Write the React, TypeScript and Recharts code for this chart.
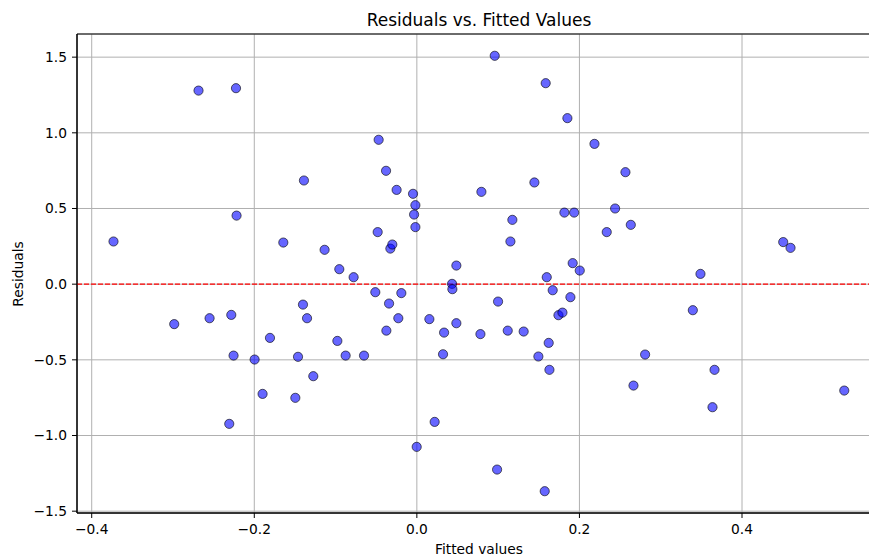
import {
  ScatterChart,
  Scatter,
  XAxis,
  YAxis,
  CartesianGrid,
  ReferenceLine,
  ReferenceArea,
} from "recharts";

/* ------------------------------------------------------------------ */
/*  Data                                                               */
/* ------------------------------------------------------------------ */

const fittedValues = [
  -0.3732, -0.2985, -0.2686, -0.255, -0.2308, -0.2283, -0.2255, -0.2225,
  -0.2218, -0.1996, -0.1898, -0.1807, -0.1643, -0.1495, -0.1462, -0.1401,
  -0.1389, -0.1351, -0.1274, -0.1135, -0.0978, -0.0954, -0.0876, -0.0778,
  -0.065, -0.0511, -0.0482, -0.047, -0.0379, -0.0375, -0.0342, -0.0326,
  -0.0302, -0.0249, -0.0228, -0.0191, -0.0047, -0.0034, -0.0018, -0.0018,
  -0.0002, 0.0154, 0.0219, 0.0322, 0.0335, 0.0433, 0.0437, 0.0486, 0.0486,
  0.0782, 0.0794, 0.0958, 0.0987, 0.0999, 0.1118, 0.1151, 0.1175, 0.1314,
  0.1446, 0.1495, 0.1573, 0.1585, 0.1598, 0.1622, 0.1631, 0.1671, 0.1742,
  0.1791, 0.1815, 0.1852, 0.1889, 0.1917, 0.1935, 0.2004, 0.2185, 0.2336,
  0.2439, 0.2566, 0.2632, 0.2665, 0.2808, 0.3395, 0.3489, 0.3637, 0.3662,
  0.4507, 0.4597, 0.5258,
];

const residuals = [
  0.282, -0.264, 1.279, -0.225, -0.923, -0.203, -0.472, 1.295, 0.453, -0.498,
  -0.725, -0.355, 0.275, -0.751, -0.48, -0.135, 0.685, -0.225, -0.608, 0.227,
  -0.375, 0.099, -0.472, 0.046, -0.472, -0.053, 0.344, 0.954, 0.749, -0.307,
  -0.128, 0.235, 0.262, 0.623, -0.225, -0.059, 0.597, 0.46, 0.522, 0.377,
  -1.075, -0.231, -0.91, -0.463, -0.32, 0.002, -0.033, 0.123, -0.258, -0.33,
  0.61, 1.509, -1.225, -0.115, -0.307, 0.282, 0.425, -0.313, 0.672, -0.478,
  -1.368, 1.328, 0.046, -0.388, -0.566, -0.04, -0.205, -0.188, 0.473, 1.097,
  -0.086, 0.139, 0.473, 0.09, 0.927, 0.344, 0.5, 0.74, 0.392, -0.67, -0.465,
  -0.172, 0.068, -0.813, -0.566, 0.278, 0.24, -0.703,
];

const xTicks = [-0.4, -0.2, 0, 0.2, 0.4];
const yTicks = [-1.5, -1.0, -0.5, 0, 0.5, 1.0, 1.5];

const xDomain: [number, number] = [-0.4181, 0.571];
const yDomain: [number, number] = [-1.512, 1.653];

/* ------------------------------------------------------------------ */
/*  Helpers                                                            */
/* ------------------------------------------------------------------ */

// matplotlib style labels with a real minus sign
const fmt = (v: number) => (v < 0 ? "\u2212" : "") + Math.abs(v).toFixed(1);

function Dot(props: { cx?: number; cy?: number }) {
  const { cx, cy } = props;
  if (cx == null || cy == null) return null;
  return (
    <circle
      cx={cx}
      cy={cy}
      r={4.6}
      fill="rgba(0,0,255,0.6)"
      stroke="rgba(0,0,0,0.6)"
      strokeWidth={1}
    />
  );
}

/* ------------------------------------------------------------------ */
/*  App                                                                */
/* ------------------------------------------------------------------ */

export default function App() {
  const data = fittedValues.map((x, i) => ({ x, y: residuals[i] }));
  const tickStyle = { fill: "#000", fontSize: 13.8 };

  return (
    <div
      style={{
        position: "absolute",
        left: 0,
        top: 0,
        width: 869,
        height: 557,
        overflow: "hidden",
        background: "#fff",
        fontFamily: "'DejaVu Sans', sans-serif",
      }}
    >
      {/* ---- Title ---- */}
      <div
        style={{
          position: "absolute",
          left: 0,
          width: 958,
          top: 10,
          textAlign: "center",
          fontSize: 17,
          lineHeight: "20px",
          color: "#000",
        }}
      >
        Residuals vs. Fitted Values
      </div>

      {/* ---- Y label ---- */}
      <div
        style={{
          position: "absolute",
          left: 18,
          top: 274,
          transform: "translate(-50%, -50%) rotate(-90deg)",
          fontSize: 13.8,
          lineHeight: "16px",
          whiteSpace: "nowrap",
          color: "#000",
        }}
      >
        Residuals
      </div>

      {/* ---- X label ---- */}
      <div
        style={{
          position: "absolute",
          left: 0,
          width: 958,
          top: 541,
          textAlign: "center",
          fontSize: 13.8,
          lineHeight: "16px",
          color: "#000",
        }}
      >
        Fitted values
      </div>

      {/* ---- Chart ---- */}
      <div style={{ position: "absolute", left: 0, top: 0 }}>
        <ScatterChart
          width={881}
          height={557}
          margin={{ top: 34, right: 0, bottom: 0, left: 0 }}
        >
          <CartesianGrid stroke="#b0b0b0" strokeWidth={1} />

          <XAxis
            type="number"
            dataKey="x"
            domain={xDomain}
            ticks={xTicks}
            allowDataOverflow
            height={44}
            tickFormatter={fmt}
            tick={tickStyle}
            tickSize={5}
            tickMargin={6}
            stroke="#000"
          />

          <YAxis
            type="number"
            dataKey="y"
            domain={yDomain}
            ticks={yTicks}
            allowDataOverflow
            width={77}
            tickFormatter={fmt}
            tick={tickStyle}
            tickSize={5}
            tickMargin={5}
            stroke="#000"
          />

          <ReferenceArea
            x1={xDomain[0]}
            x2={xDomain[1]}
            y1={yDomain[0]}
            y2={yDomain[1]}
            fill="none"
            stroke="#000"
            strokeWidth={1}
            ifOverflow="visible"
          />

          <Scatter data={data} shape={Dot} isAnimationActive={false} />

          <ReferenceLine
            y={0}
            stroke="red"
            strokeDasharray="5 2"
            strokeWidth={1.2}
          />
        </ScatterChart>
      </div>
    </div>
  );
}
